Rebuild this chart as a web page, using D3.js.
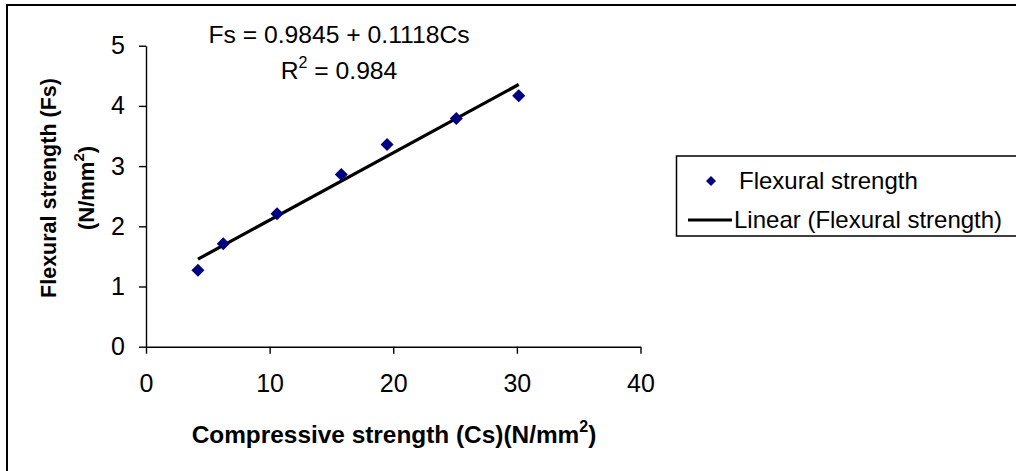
<!DOCTYPE html>
<html>
<head>
<meta charset="utf-8">
<script src="https://cdn.jsdelivr.net/npm/d3@7"></script>
<style>
body { margin: 0; background: #fff; }
svg text { font-family: "Liberation Sans", Arial, sans-serif; fill: #000; }
</style>
</head>
<body>
<div id="chart"></div>
<script>
// compressive strength (x) vs flexural strength (y)
var compStrength = [4.2, 6.25, 10.6, 15.8, 19.5, 25.1, 30.15];
var flexStrength = [1.27, 1.71, 2.21, 2.86, 3.36, 3.79, 4.17];
var xTicks = [0, 10, 20, 30, 40];
var yTicks = [0, 1, 2, 3, 4, 5];
var seriesNames = ['Flexural strength', 'Linear (Flexural strength)'];
// trendline as printed on the chart
var fitIntercept = 0.9845, fitSlope = 0.1118, fitR2 = 0.984;

var width = 1016, height = 471;
var margin = {top: 45.7, right: 375.5, bottom: 124.3, left: 146};

var svg = d3.select('#chart').append('svg')
    .attr('width', width)
    .attr('height', height);

// outer chart frame (cropped on the right and bottom)
svg.append('rect')
    .attr('x', 7).attr('y', 5)
    .attr('width', 1100).attr('height', 500)
    .attr('fill', 'none')
    .attr('stroke', '#000')
    .attr('stroke-width', 2);

var x = d3.scaleLinear().domain([0, 40]).range([margin.left, width - margin.right]);
var y = d3.scaleLinear().domain([0, 5]).range([height - margin.bottom, margin.top]);

var xAxis = svg.append('g')
    .attr('transform', 'translate(0,' + y(0) + ')')
    .call(d3.axisBottom(x).tickValues(xTicks).tickFormat(d3.format('d'))
        .tickSize(7).tickSizeOuter(0).tickPadding(21));
var yAxis = svg.append('g')
    .attr('transform', 'translate(' + x(0) + ',0)')
    .call(d3.axisLeft(y).tickValues(yTicks).tickFormat(d3.format('d'))
        .tickSize(7).tickSizeOuter(0).tickPadding(14));

[xAxis, yAxis].forEach(function(g) {
    g.selectAll('path, line').attr('stroke', '#000').attr('stroke-width', 1.4);
    g.selectAll('text')
        .attr('font-family', '"Liberation Sans", Arial, sans-serif')
        .attr('font-size', 25)
        .attr('fill', '#000');
});

// linear trendline over the data range
var xs = d3.extent(compStrength);
var line = d3.line()
    .x(function(d) { return x(d); })
    .y(function(d) { return y(fitIntercept + fitSlope * d); });
svg.append('path')
    .datum(xs)
    .attr('d', line)
    .attr('fill', 'none')
    .attr('stroke', '#000')
    .attr('stroke-width', 3.2);

var diamond = d3.symbol().type(d3.symbolSquare).size(85);
svg.selectAll('path.pt')
    .data(compStrength)
  .enter().append('path')
    .attr('class', 'pt')
    .attr('d', diamond)
    .attr('fill', '#000080')
    .attr('transform', function(d, i) {
        return 'translate(' + x(d) + ',' + y(flexStrength[i]) + ') rotate(45)';
    });

// equation
var eq = svg.append('g');
eq.append('text')
    .attr('x', 339).attr('y', 43)
    .attr('text-anchor', 'middle')
    .attr('font-size', 24.7)
    .text('Fs = ' + fitIntercept + ' + ' + fitSlope + 'Cs');
var r2 = eq.append('text')
    .attr('x', 339).attr('y', 79)
    .attr('text-anchor', 'middle')
    .attr('font-size', 24.7);
r2.append('tspan').text('R');
r2.append('tspan').attr('font-size', 16).attr('dy', -11).text('2');
r2.append('tspan').attr('dy', 11).text(' = ' + fitR2);

// axis titles
var xt = svg.append('text')
    .attr('x', 394).attr('y', 443)
    .attr('text-anchor', 'middle')
    .attr('font-weight', 'bold')
    .attr('font-size', 24.4);
xt.append('tspan').text('Compressive strength (Cs)(N/mm');
xt.append('tspan').attr('font-size', 16).attr('dy', -11).text('2');
xt.append('tspan').attr('dy', 11).text(')');

var yt = svg.append('g')
    .attr('transform', 'translate(0,188) rotate(-90)')
    .attr('font-weight', 'bold');
yt.append('text')
    .attr('x', 0).attr('y', 56)
    .attr('text-anchor', 'middle')
    .attr('font-size', 21.5)
    .text('Flexural strength (Fs)');
var yt2 = yt.append('text')
    .attr('x', 0).attr('y', 94)
    .attr('text-anchor', 'middle')
    .attr('font-size', 22);
yt2.append('tspan').text('(N/mm');
yt2.append('tspan').attr('font-size', 15).attr('dy', -10).text('2');
yt2.append('tspan').attr('dy', 10).text(')');

// legend
var legend = svg.append('g');
legend.append('rect')
    .attr('x', 676.5).attr('y', 156)
    .attr('width', 400).attr('height', 80)
    .attr('fill', '#fff')
    .attr('stroke', '#000')
    .attr('stroke-width', 1.5);
legend.append('path')
    .attr('d', d3.symbol().type(d3.symbolSquare).size(50))
    .attr('fill', '#000080')
    .attr('transform', 'translate(711,181) rotate(45)');
legend.append('line')
    .attr('x1', 688).attr('x2', 732)
    .attr('y1', 220).attr('y2', 220)
    .attr('stroke', '#000')
    .attr('stroke-width', 3.2);
legend.selectAll('text')
    .data(seriesNames)
  .enter().append('text')
    .attr('x', function(d, i) { return i ? 734 : 739; })
    .attr('y', function(d, i) { return i ? 228 : 189; })
    .attr('font-size', 24)
    .text(function(d) { return d; });
</script>
</body>
</html>
